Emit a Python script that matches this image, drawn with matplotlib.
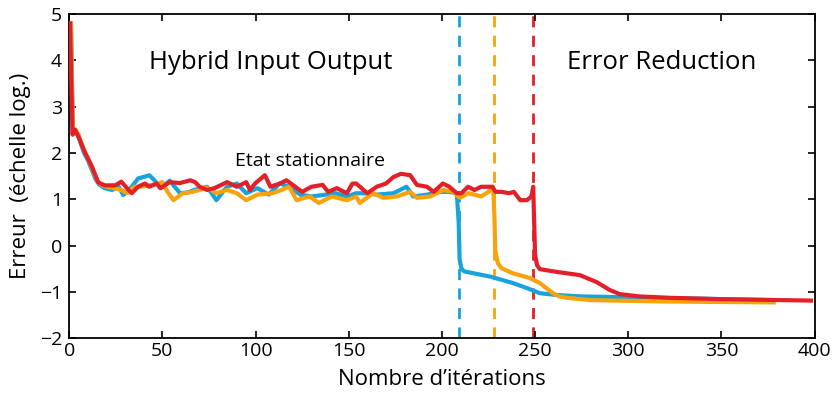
import matplotlib
matplotlib.use("Agg")
import matplotlib.pyplot as plt

plt.rcParams['font.family'] = ['Open Sans', 'DejaVu Sans']

# Blue series (HIO -> ER switch at ~209)
blue_x = [1, 2, 3, 5, 8, 10, 12, 14, 16, 19, 23, 26.6, 29, 33.6, 37, 40.7, 43, 46, 49, 54,
          59.5, 64, 67, 74, 79, 84.7, 90, 95, 101, 107, 113, 118, 124, 130, 137.6, 143, 149,
          154, 157.7, 165, 174, 181, 184.6, 192, 199, 204, 208, 209, 209.5, 210.5, 212,
          225.7, 238, 245.6, 252.5, 261.6, 275, 300, 340, 377]
blue_y = [4.8, 2.4, 2.5, 2.35, 2.0, 1.85, 1.65, 1.45, 1.32, 1.24, 1.2, 1.27, 1.09, 1.27, 1.45,
          1.49, 1.52, 1.4, 1.24, 1.4, 1.13, 1.15, 1.2, 1.27, 0.98, 1.27, 1.34, 1.13, 1.24, 1.1,
          1.34, 1.27, 1.1, 1.06, 1.1, 1.13, 1.06, 1.13, 1.13, 1.1, 1.13, 1.27, 1.06, 1.1, 1.16,
          1.16, 1.13, 0.5, -0.3, -0.5, -0.56, -0.67, -0.81, -0.92, -1.03, -1.07, -1.1, -1.12,
          -1.15, -1.18]

# Orange series (switch at ~228)
orange_x = [1, 2, 3, 5, 8, 10, 12, 14, 16, 19, 23, 28, 31, 35, 38, 43, 47, 50, 53, 56, 61, 65,
            70, 74, 79, 84.7, 90, 95, 101, 109, 114, 118, 122, 129, 134, 141, 149, 154, 156,
            163, 168.6, 175.8, 183, 186.6, 193.7, 200.8, 206, 209.7, 214, 217.5, 221, 225,
            227.5, 228.2, 228.6, 230, 232, 238, 247, 252.5, 256, 259.6, 263, 267, 280, 320, 378]
orange_y = [4.8, 2.4, 2.52, 2.4, 2.05, 1.9, 1.7, 1.5, 1.35, 1.28, 1.25, 1.2, 1.13, 1.27, 1.27,
            1.3, 1.33, 1.37, 1.15, 0.98, 1.13, 1.15, 1.2, 1.25, 1.13, 1.2, 1.13, 0.98, 1.1, 1.13,
            1.2, 1.27, 0.98, 1.06, 0.92, 1.06, 0.98, 1.06, 0.92, 1.13, 1.03, 1.06, 1.16, 1.03,
            1.06, 1.2, 1.16, 1.03, 1.13, 1.1, 1.06, 1.16, 1.27, 0.6, -0.1, -0.38, -0.49, -0.6,
            -0.7, -0.81, -0.92, -1.03, -1.1, -1.13, -1.18, -1.21, -1.23]

# Red series (switch at ~249)
red_x = [0.5, 1.2, 1.8, 3.2, 5, 8.6, 12.3, 15.5, 19, 24.7, 28, 31, 33.6, 37, 40.7, 43, 47, 49,
         54, 59.5, 65, 67.6, 70, 74, 78, 84.7, 90, 95, 97, 100, 103, 105, 108, 113, 116.6, 120,
         125, 130, 136, 139, 143.6, 149, 152, 154, 160, 165, 170, 174, 178, 183, 186.6, 192,
         195.6, 200.5, 204, 208, 210.5, 214, 217.5, 221, 227, 228.8, 232, 236, 238.6, 242,
         245.6, 248, 249, 249.5, 250, 251, 252.5, 261.6, 274, 283, 290, 295.4, 306, 322, 350, 398]
red_y = [4.8, 3.5, 2.4, 2.5, 2.35, 2.0, 1.7, 1.37, 1.3, 1.3, 1.38, 1.24, 1.13, 1.27, 1.34, 1.27,
         1.34, 1.24, 1.37, 1.35, 1.41, 1.37, 1.27, 1.2, 1.24, 1.37, 1.27, 1.37, 1.2, 1.35, 1.45,
         1.52, 1.27, 1.34, 1.41, 1.31, 1.16, 1.27, 1.31, 1.16, 1.24, 1.13, 1.34, 1.34, 1.13, 1.27,
         1.34, 1.48, 1.55, 1.52, 1.31, 1.27, 1.16, 1.34, 1.27, 1.13, 1.13, 1.27, 1.2, 1.27, 1.27,
         1.16, 1.16, 1.13, 1.16, 0.98, 0.98, 1.06, 1.27, 0.5, -0.2, -0.42, -0.51, -0.57, -0.64,
         -0.79, -0.96, -1.05, -1.1, -1.13, -1.16, -1.19]

switch_x = [209, 228, 249]

BLUE = '#17a3dc'
ORANGE = '#f8a30c'
RED = '#e3202a'

fig = plt.figure(figsize=(8.33, 3.94), dpi=100)
ax = fig.add_axes([0.083, 0.142, 0.895, 0.822])

for xv, c in zip(switch_x, [BLUE, ORANGE, RED]):
    ax.axvline(xv, color=c, lw=2.0, ls=(0, (4, 3)), zorder=1)

ax.plot(blue_x, blue_y, color=BLUE, lw=3.0, zorder=2, solid_joinstyle='round')
ax.plot(orange_x, orange_y, color=ORANGE, lw=3.0, zorder=3, solid_joinstyle='round')
ax.plot(red_x, red_y, color=RED, lw=3.0, zorder=4, solid_joinstyle='round')

ax.set_xlim(0, 400)
ax.set_ylim(-2, 5)
ax.set_xticks(range(0, 401, 50))
ax.set_yticks(range(-2, 6))
ax.set_yticklabels(['\u22122', '\u22121', '0', '1', '2', '3', '4', '5'])
ax.tick_params(direction='in', top=True, right=True, labelsize=14, length=5, width=1.2)
ax.tick_params(axis='x', pad=3)
ax.tick_params(axis='y', pad=5)
for s in ax.spines.values():
    s.set_linewidth(1.3)

ax.set_xlabel("Nombre d\u2019itérations", fontsize=16, labelpad=6)
ax.set_ylabel("Erreur  (échelle log.)", fontsize=16, labelpad=6)

ax.text(108, 3.95, "Hybrid Input Output", fontsize=18.5, ha='center', va='center')
ax.text(318, 3.95, "Error Reduction", fontsize=18.5, ha='center', va='center')
ax.text(129, 1.82, "Etat stationnaire", fontsize=14, ha='center', va='center')

fig.savefig("out.png", dpi=100)
